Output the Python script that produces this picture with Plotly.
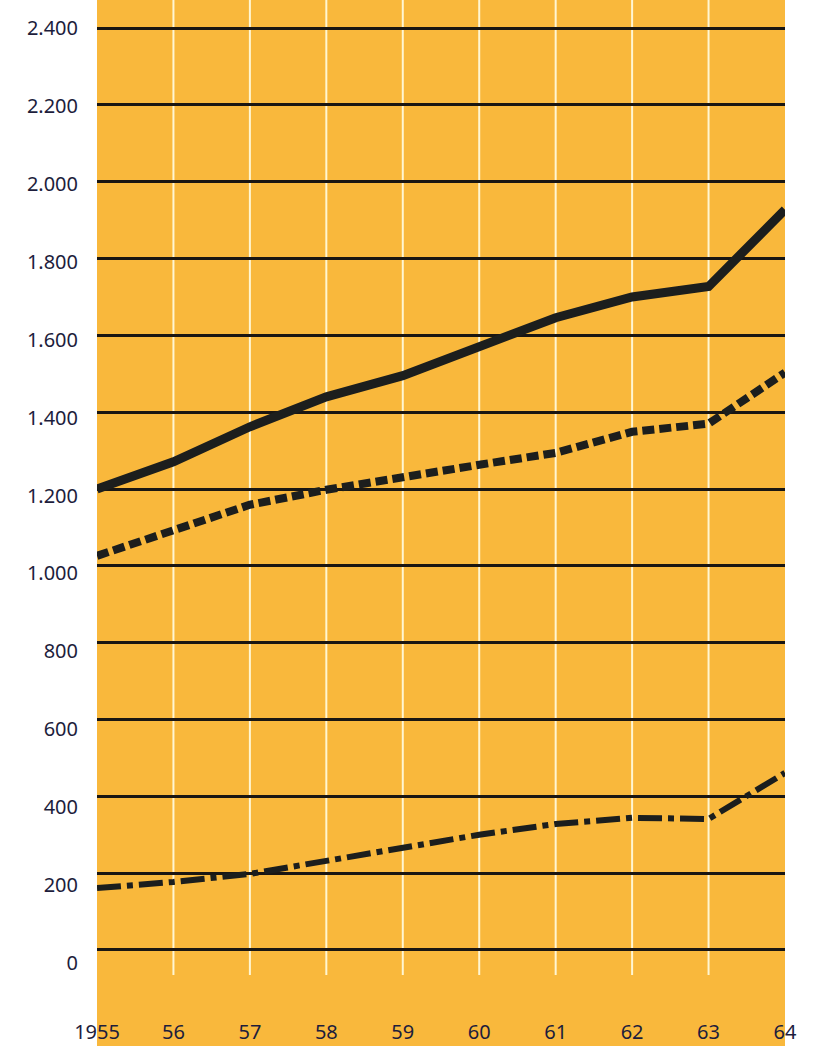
import plotly.graph_objects as go

years = [1955, 1956, 1957, 1958, 1959, 1960, 1961, 1962, 1963, 1964]
year_labels = ["1955", "56", "57", "58", "59", "60", "61", "62", "63", "64"]
series_solid = [1200, 1271, 1362, 1440, 1495, 1570, 1646, 1700, 1727, 1927]
series_dash = [1026, 1094, 1159, 1198, 1232, 1263, 1294, 1349, 1370, 1503]
series_dashdot = [161, 177, 198, 232, 266, 300, 328, 344, 341, 461]
y_ticks = [0, 200, 400, 600, 800, 1000, 1200, 1400, 1600, 1800, 2000, 2200, 2400]
y_tick_labels = ["0", "200", "400", "600", "800", "1.000", "1.200", "1.400",
                 "1.600", "1.800", "2.000", "2.200", "2.400"]

ORANGE = "#f9b83c"
INK = "#1c1e1d"
LABEL = "#1d1d3c"
FONT = "Noto Sans"

fig = go.Figure()

fig.add_trace(go.Scatter(x=years, y=series_solid, mode="lines",
                         line=dict(color=INK, width=9), hoverinfo="skip", showlegend=False))
fig.add_trace(go.Scatter(x=years, y=series_dash, mode="lines",
                         line=dict(color=INK, width=8, dash="12px,5px"), hoverinfo="skip", showlegend=False))
fig.add_trace(go.Scatter(x=years, y=series_dashdot, mode="lines",
                         line=dict(color=INK, width=6, dash="24px,6px,6px,6px"), hoverinfo="skip", showlegend=False))
# invisible trace carrying the label axis
fig.add_trace(go.Scatter(x=[years[0]], y=[0], mode="markers", opacity=0, yaxis="y2",
                         hoverinfo="skip", showlegend=False))

# white vertical gridlines (stopping short of the bottom)
for yr in years[1:-1]:
    fig.add_shape(type="line", xref="x", yref="y", x0=yr, x1=yr, y0=-65, y1=2600,
                  line=dict(color="#fff6d2", width=2), layer="below")

fig.update_layout(
    width=814, height=1046,
    margin=dict(l=97, r=29, t=0, b=0),
    paper_bgcolor="white",
    plot_bgcolor=ORANGE,
    xaxis=dict(range=[1955, 1964], tickvals=years, ticktext=year_labels,
               showgrid=False, zeroline=False, showline=False,
               ticklabelposition="inside", ticklabeloverflow="allow",
               ticks="", tickfont=dict(family=FONT, size=20, color=LABEL)),
    yaxis=dict(range=[-250, 2473], tickvals=y_ticks, showticklabels=False,
               showgrid=True, gridcolor="#1a1612", gridwidth=3,
               zeroline=False, showline=False, ticks=""),
    yaxis2=dict(range=[-213, 2472], overlaying="y", side="left",
                tickvals=y_ticks, ticktext=y_tick_labels,
                showgrid=False, zeroline=False, showline=False, ticks="",
                ticklabelstandoff=18,
                tickfont=dict(family=FONT, size=20, color=LABEL)),
)

fig.write_html("out.html", config={"displayModeBar": False},
               post_script="document.body.style.margin='0';document.body.style.overflow='hidden';")
